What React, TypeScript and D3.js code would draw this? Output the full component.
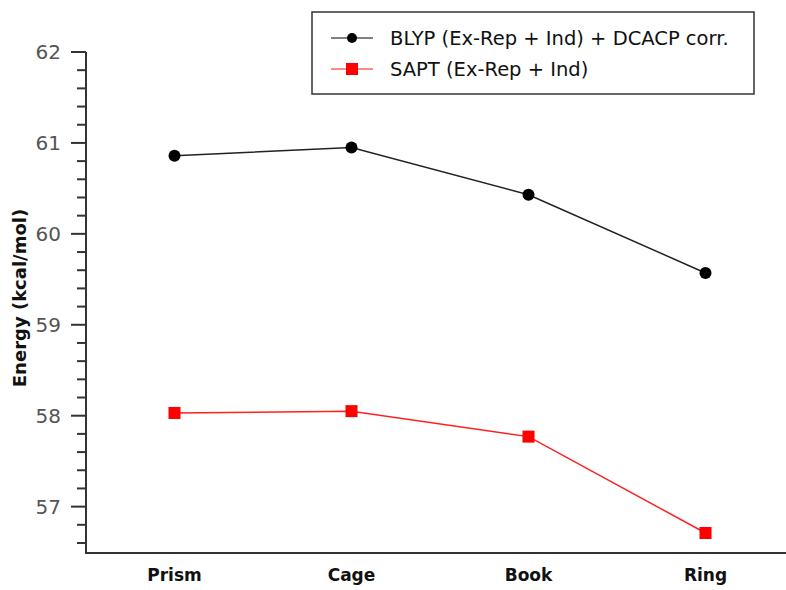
import React, { useEffect, useRef } from 'react';
import * as d3 from 'd3';

// chart data
const structures = ['Prism', 'Cage', 'Book', 'Ring'];
const blypValues = [60.86, 60.95, 60.43, 59.57];
const saptValues = [58.03, 58.05, 57.77, 56.71];
const majorTicks = [57, 58, 59, 60, 61, 62];
const seriesNames = ['BLYP (Ex-Rep + Ind) + DCACP corr.', 'SAPT (Ex-Rep + Ind)'];

const W = 786;
const H = 590;
const FONT = '"Comic Sans MS", "DejaVu Sans", sans-serif';

const App = () => {
  const ref = useRef<SVGSVGElement>(null);

  useEffect(() => {
    const svg = d3.select(ref.current);
    svg.selectAll('*').remove();

    const left = 86, top = 52, bottom = 553;

    const y = d3.scaleLinear().domain([56.49, 62]).range([bottom, top]);
    const x = d3.scalePoint<string>().domain(structures).range([left, 794]).padding(0.5);

    // y axis, major + minor ticks
    const minor = d3.range(56.6, 62.0001, 0.2).filter(v => Math.abs(v - Math.round(v)) > 0.01);
    const yAxis = svg.append('g');
    yAxis.append('line')
      .attr('x1', left).attr('x2', left).attr('y1', top).attr('y2', bottom)
      .attr('stroke', '#333').attr('stroke-width', 2);
    yAxis.selectAll('.maj').data(majorTicks).enter().append('line')
      .attr('x1', left - 15).attr('x2', left)
      .attr('y1', d => y(d)).attr('y2', d => y(d))
      .attr('stroke', '#333').attr('stroke-width', 2);
    yAxis.selectAll('.min').data(minor).enter().append('line')
      .attr('x1', left - 9).attr('x2', left)
      .attr('y1', d => y(d)).attr('y2', d => y(d))
      .attr('stroke', '#333').attr('stroke-width', 2);
    yAxis.selectAll('text').data(majorTicks).enter().append('text')
      .attr('x', 61).attr('y', d => y(d)).attr('dy', '0.36em')
      .attr('text-anchor', 'end')
      .attr('font-family', '"DejaVu Sans", sans-serif').attr('font-size', 20)
      .attr('fill', '#555')
      .text(d => d);

    // x axis
    svg.append('line')
      .attr('x1', left - 1).attr('x2', W).attr('y1', bottom).attr('y2', bottom)
      .attr('stroke', '#333').attr('stroke-width', 2);
    svg.selectAll('.xl').data(structures).enter().append('text')
      .attr('x', d => x(d)!).attr('y', 581)
      .attr('text-anchor', 'middle')
      .attr('font-family', FONT).attr('font-weight', 'bold').attr('font-size', 17)
      .attr('fill', '#111')
      .text(d => d);

    // y label
    svg.append('text')
      .attr('transform', `translate(26,298) rotate(-90)`)
      .attr('text-anchor', 'middle')
      .attr('font-family', FONT).attr('font-weight', 'bold').attr('font-size', 18)
      .attr('fill', '#111')
      .text('Energy (kcal/mol)');

    const line = d3.line<number>().x((d, i) => x(structures[i])!).y(d => y(d));

    // BLYP series
    svg.append('path').datum(blypValues)
      .attr('d', line).attr('fill', 'none').attr('stroke', '#222').attr('stroke-width', 1.5);
    svg.selectAll('.blyp').data(blypValues).enter().append('circle')
      .attr('cx', (d, i) => x(structures[i])!).attr('cy', d => y(d)).attr('r', 6)
      .attr('fill', '#000');

    // SAPT series
    svg.append('path').datum(saptValues)
      .attr('d', line).attr('fill', 'none').attr('stroke', '#ff2020').attr('stroke-width', 1.5);
    svg.selectAll('.sapt').data(saptValues).enter().append('rect')
      .attr('x', (d, i) => x(structures[i])! - 6).attr('y', d => y(d) - 6)
      .attr('width', 12).attr('height', 12)
      .attr('fill', '#ff0000');

    // legend
    const lg = svg.append('g');
    lg.append('rect')
      .attr('x', 312).attr('y', 12).attr('width', 442).attr('height', 82)
      .attr('fill', '#fff').attr('stroke', '#333').attr('stroke-width', 1.5);
    const rows = [38, 69];
    lg.append('line').attr('x1', 331).attr('x2', 373).attr('y1', rows[0]).attr('y2', rows[0])
      .attr('stroke', '#555').attr('stroke-width', 1.5);
    lg.append('circle').attr('cx', 352).attr('cy', rows[0]).attr('r', 5).attr('fill', '#000');
    lg.append('line').attr('x1', 331).attr('x2', 373).attr('y1', rows[1]).attr('y2', rows[1])
      .attr('stroke', '#ff6060').attr('stroke-width', 1.5);
    lg.append('rect').attr('x', 346).attr('y', rows[1] - 6).attr('width', 12).attr('height', 12)
      .attr('fill', '#ff0000');
    lg.selectAll('text').data(seriesNames).enter().append('text')
      .attr('x', 390).attr('y', (d, i) => rows[i]).attr('dy', '0.36em')
      .attr('font-family', FONT).attr('font-size', 19.5).attr('fill', '#111')
      .text(d => d);
  }, []);

  return (
    <svg ref={ref} width={W} height={H}
      style={{ position: 'absolute', left: 0, top: 0, background: '#fff' }} />
  );
};

export default App;
